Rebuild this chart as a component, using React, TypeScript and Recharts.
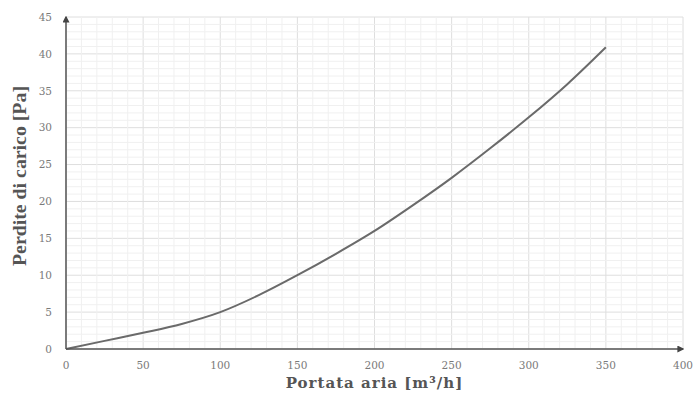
import React from 'react';
import { LineChart, Line, XAxis, YAxis, CartesianGrid, ReferenceLine } from 'recharts';

const flowRates = [0, 25, 50, 75, 100, 125, 150, 175, 200, 225, 250, 275, 300, 325, 350];
const pressureLoss = [0, 1.1, 2.2, 3.4, 5.0, 7.3, 10.0, 12.9, 16.0, 19.5, 23.2, 27.2, 31.4, 35.9, 40.9];

const xTicks = [0, 50, 100, 150, 200, 250, 300, 350, 400];
const yTicks = [0, 5, 10, 15, 20, 25, 30, 35, 40, 45];
const xMinor = [10, 20, 30, 40, 60, 70, 80, 90, 110, 120, 130, 140, 160, 170, 180, 190, 210, 220, 230, 240, 260, 270, 280, 290, 310, 320, 330, 340, 360, 370, 380, 390];
const yMinor = [1, 2, 3, 4, 6, 7, 8, 9, 11, 12, 13, 14, 16, 17, 18, 19, 21, 22, 23, 24, 26, 27, 28, 29, 31, 32, 33, 34, 36, 37, 38, 39, 41, 42, 43, 44];

const xTitle = 'Portata aria [m³/h]';
const yTitle = 'Perdite di carico [Pa]';

const data = flowRates.map((q, i) => ({ q, dp: pressureLoss[i] }));

const tickStyle = { fontFamily: 'DejaVu Serif', fontSize: 10.5, fill: '#7a7a7a' };

const YTitle = (props: any) => {
  const vb = props.viewBox || {};
  const cx = 19;
  const cy = (vb.y ?? 17) + (vb.height ?? 332) / 2 - 7;
  return (
    <text
      x={cx}
      y={cy}
      transform={`rotate(-90, ${cx}, ${cy})`}
      textAnchor="middle"
      dominantBaseline="central"
      fontFamily="Liberation Serif"
      fontWeight="bold"
      fontSize={19}
      fill="#555"
      textLength={180}
      lengthAdjust="spacingAndGlyphs"
    >
      {yTitle}
    </text>
  );
};

export default function App() {
  return (
    <div style={{ position: 'absolute', left: 0, top: 0, width: 695, height: 394, background: '#fff' }}>
      <LineChart width={695} height={394} data={data} margin={{ top: 17, right: 12, bottom: 5, left: 0 }}>
        <defs>
          <marker id="arrowHead" viewBox="0 0 10 10" refX="8" refY="5" markerWidth="7" markerHeight="7" orient="auto-start-reverse" markerUnits="userSpaceOnUse">
            <path d="M0,0 L10,5 L0,10 z" fill="#444" />
          </marker>
        </defs>
        {xMinor.map((v) => (
          <ReferenceLine key={'xm' + v} x={v} stroke="#f0f0f0" strokeWidth={1} />
        ))}
        {yMinor.map((v) => (
          <ReferenceLine key={'ym' + v} y={v} stroke="#f0f0f0" strokeWidth={1} />
        ))}
        <CartesianGrid stroke="#dedede" strokeWidth={1} />
        <XAxis
          dataKey="q"
          type="number"
          domain={[0, 400]}
          ticks={xTicks}
          interval={0}
          tickLine={false}
          tickSize={0}
          tickMargin={13}
          height={40}
          tick={tickStyle}
          axisLine={{ stroke: '#555', strokeWidth: 1.5, markerEnd: 'url(#arrowHead)' }}
          label={{ value: xTitle, position: 'insideBottom', offset: 1, style: { fontFamily: 'DejaVu Serif', fontWeight: 'bold', fontSize: 15, fill: '#555', letterSpacing: 1 } }}
        />
        <YAxis
          type="number"
          domain={[0, 45]}
          ticks={yTicks}
          interval={0}
          tickLine={false}
          tickSize={0}
          tickMargin={14}
          width={66}
          tick={tickStyle}
          axisLine={{ stroke: '#555', strokeWidth: 1.5, markerStart: 'url(#arrowHead)' }}
          label={<YTitle />}
        />
        <Line type="monotone" dataKey="dp" stroke="#6a6a6a" strokeWidth={2} dot={false} isAnimationActive={false} />
      </LineChart>
    </div>
  );
}
